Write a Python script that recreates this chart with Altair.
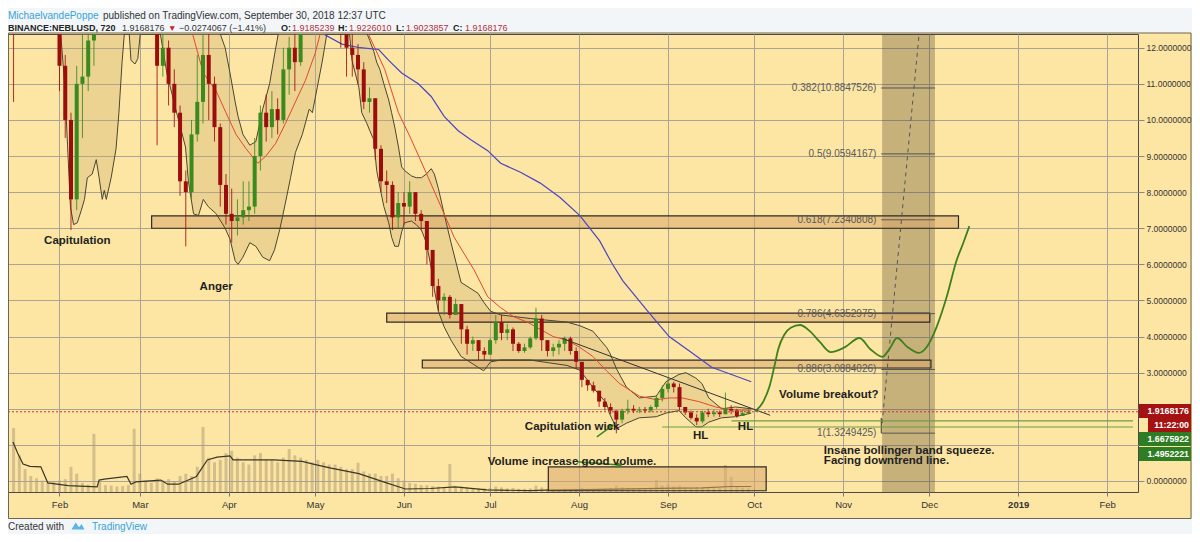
import altair as alt
import pandas as pd

BASE = pd.Timestamp("2018-01-01")


def to_dates(days):
    return BASE + pd.to_timedelta(pd.Series(days, dtype="float64"), unit="D")


# ----------------------------------------------------------------- data
# 2-day NEBL/USD candles, Jan 16 -> Sep 29 2018 (open = previous close)
candle_start = "2018-01-16"
first_open = 20.0
closes = [15.0, 17.0, 18.0, 16.0, 15.5, 16.0, 15.5, 13.5,
          11.5, 10.0, 7.8, 11.0, 11.2, 12.2, 13.5, 14.5, 16.5, 16.0, 14.5, 13.8, 14.2, 14.6,
          14.0, 13.5, 13.0, 11.5, 12.0, 11.0, 10.2, 8.3, 8.0, 9.6, 10.5, 11.8, 11.0, 9.8, 8.2, 7.4,
          7.2, 7.3, 7.5, 7.6, 9.0, 10.2, 9.8, 10.3, 10.0, 11.4, 12.0, 11.6, 13.2, 14.5, 14.0,
          14.5, 15.0, 14.2, 13.5, 12.6, 12.0, 11.8, 11.4, 10.5, 10.6, 9.2, 8.3, 8.2, 7.3, 7.7,
          7.6, 8.0, 7.4, 7.2, 6.4, 5.4, 5.0, 5.1, 4.6, 4.9, 4.2, 3.8, 3.9, 3.6, 3.5,
          3.9, 4.4, 4.1, 4.2, 3.8, 3.6, 3.7, 3.95, 4.5, 3.9, 3.6, 3.7, 3.8, 3.95, 3.6, 3.3,
          2.8, 2.65, 2.5, 2.2, 2.05, 1.95, 1.7, 1.95, 2.0, 1.95, 1.98, 1.95, 2.05, 2.3, 2.55,
          2.7, 2.6, 2.05, 1.9, 1.75, 1.65, 1.9, 1.85, 1.9, 1.85, 2.0, 1.95, 1.8, 1.88, 1.92]
highs = [22.0, 18.5, 19.0, 18.0, 16.5, 17.0, 16.5, 15.5,
         13.5, 11.8, 10.2, 11.5, 12.5, 13.0, 14.5, 15.5, 17.5, 17.5, 16.2, 14.8, 15.0, 15.4,
         15.0, 14.5, 14.0, 13.2, 12.6, 12.2, 11.4, 10.4, 8.6, 10.0, 11.8, 12.6, 12.4, 11.2, 9.9, 8.5,
         8.1, 7.8, 8.3, 8.3, 9.5, 10.4, 10.7, 10.8, 10.6, 12.0, 12.3, 12.6, 13.8, 15.2, 15.0,
         15.5, 16.0, 15.5, 14.8, 13.6, 12.8, 12.5, 12.1, 11.6, 10.9, 10.6, 9.3, 8.6, 8.3, 8.0,
         8.0, 8.3, 8.0, 7.5, 7.2, 6.4, 5.6, 5.2, 5.15, 5.05, 4.9, 4.3, 4.0, 3.9, 3.7,
         3.95, 4.6, 4.6, 4.35, 4.25, 3.85, 3.8, 4.0, 4.8, 4.6, 3.9, 3.8, 3.9, 4.0, 4.0, 3.7,
         3.3, 2.8, 2.75, 2.5, 2.3, 2.15, 1.95, 2.0, 2.25, 2.1, 2.05, 2.05, 2.1, 2.35, 2.65,
         2.85, 2.75, 2.7, 2.05, 1.95, 1.85, 1.95, 2.0, 1.98, 1.95, 2.45, 2.1, 2.0, 1.95, 1.97]
lows = [10.5, 14.0, 16.0, 15.0, 14.0, 14.5, 14.5, 12.8,
        10.8, 9.5, 6.95, 7.5, 9.5, 10.8, 11.5, 13.0, 14.2, 15.0, 13.8, 12.9, 13.4, 13.8,
        13.0, 12.6, 12.5, 9.3, 11.2, 10.4, 9.8, 7.9, 6.5, 7.8, 9.4, 9.9, 10.0, 9.4, 7.6, 7.1,
        6.6, 6.8, 7.1, 7.2, 7.4, 8.6, 9.4, 9.5, 9.6, 9.9, 10.7, 10.8, 11.5, 13.0, 13.2,
        13.5, 14.0, 13.6, 12.8, 12.0, 11.2, 11.2, 11.0, 10.3, 10.2, 8.9, 8.0, 7.7, 6.95, 7.0,
        7.1, 7.4, 7.2, 6.95, 6.0, 5.1, 4.7, 4.6, 4.5, 4.6, 3.8, 3.5, 3.6, 3.35, 3.35,
        3.5, 3.8, 3.9, 3.9, 3.6, 3.55, 3.55, 3.65, 3.9, 3.6, 3.45, 3.45, 3.5, 3.6, 3.5, 3.1,
        2.6, 2.5, 2.45, 2.05, 1.95, 1.85, 1.32, 1.6, 1.85, 1.88, 1.88, 1.88, 1.9, 2.0, 2.2,
        2.45, 2.45, 1.95, 1.83, 1.7, 1.55, 1.6, 1.77, 1.78, 1.77, 1.85, 1.85, 1.75, 1.8, 1.85]
volumes = [14, 8, 5, 3.5, 3, 2.5, 2, 2.2,
           2.5, 2.8, 5.5, 4, 2, 1.6, 12.7, 2.2, 1.5, 1.4, 1.2, 1.3, 1.5, 13.8,
           4, 2.5, 2, 3, 2.5, 2.8, 2.2, 3.5, 4, 3.5, 5.5, 14.2, 7.5, 6.5, 7, 8.5,
           9, 7.5, 6.5, 6, 8, 8.5, 7, 7, 6.5, 7.5, 9.4, 8, 7.5, 7, 6.5,
           7, 6.5, 6, 6, 5.5, 5, 5, 6.4, 4.5, 4, 4, 3.5, 3.5, 4, 3,
           2.5, 2, 1.8, 1.5, 1.5, 1.3, 1.2, 1.0, 6.1, 1.0, 1.2, 1.0, 0.9, 0.8, 0.8,
           0.9, 1.2, 1.0, 0.8, 0.9, 0.7, 0.7, 0.8, 1.4, 1.0, 0.7, 0.6, 0.6, 0.7, 0.6, 0.7,
           0.9, 0.7, 0.6, 0.7, 0.8, 0.9, 1.4, 1.1, 0.9, 0.7, 0.6, 0.6, 0.7, 2.6, 1.4,
           1.6, 1.2, 1.4, 1.0, 0.9, 1.1, 0.9, 0.8, 0.8, 0.9, 5.9, 3.3, 1.1, 0.9, 0.8]

# Bollinger bands (day of year 2018, 0 = Jan 1)
bb_day = [14.8, 29.3, 31.4, 32.8, 33.8, 34.8, 35.9, 37.2, 38.6, 39.7, 40.7, 42.4, 43.8, 44.8,
          45.9, 46.6, 47.3, 49.0, 50.7, 51.7, 52.8, 53.8, 55.2, 55.9, 57.3, 58.3, 59.4, 62.1,
          64.5, 66.3, 68.4, 71.8, 74.9, 75.9, 77.7, 79.4, 81.1, 82.8, 85.6, 88.7, 90.4, 92.2,
          93.2, 94.9, 97.3, 99.4, 101.8, 104.2, 105.9, 107.7, 109.7, 111.5, 113.2, 115.6, 118.0,
          119.1, 120.8, 122.5, 124.6, 129.4, 131.9, 132.9, 135.3, 136.3, 138.1, 139.1, 140.5,
          141.5, 142.6, 144.0, 145.7, 146.7, 147.8, 149.1, 150.2, 151.2, 153.6, 155.3, 157.1,
          158.8, 160.5, 161.6, 163.0, 165.0, 167.4, 170.9, 176.8, 178.8, 181.2, 184.7, 195.0,
          207.8, 212.3, 216.8, 221.6, 222.7, 225.1, 228.5, 233.0, 238.9, 242.3, 246.8, 249.2,
          252.7, 254.8, 257.2, 261.7, 266.5, 272.0]
bb_lower = [13.0, 13.0, 12.4, 11.0, 9.3, 7.6, 7.1, 7.15, 7.5, 7.8, 8.4, 8.5, 8.9, 8.4,
            7.8, 8.05, 7.8, 8.4, 9.2, 10.2, 11.6, 12.6, 12.5, 11.65, 11.55, 11.7, 12.6, 13.0,
            13.2, 12.3, 11.3, 10.2, 9.25, 8.3, 7.4, 7.35, 7.8, 7.6, 7.4, 7.0, 6.7, 6.1,
            6.0, 6.2, 6.6, 6.5, 6.2, 6.1, 6.4, 6.95, 7.7, 8.4, 9.1, 9.6, 10.3,
            10.2, 10.9, 11.6, 12.6, 12.8, 12.5, 11.65, 10.9, 10.2, 9.9, 9.7, 9.45,
            8.6, 8.15, 7.6, 7.15, 6.75, 6.5, 6.5, 6.9, 7.15, 7.2, 7.1, 6.95,
            6.6, 5.9, 5.3, 4.7, 4.27, 3.9, 3.45, 3.15, 3.05, 3.3, 3.35, 3.35,
            3.2, 3.07, 2.6, 2.15, 1.85, 1.45, 1.6, 1.75, 1.78, 1.88, 1.95, 1.75,
            1.5, 1.5, 1.63, 1.75, 1.78, 1.88]
bb_upper = [30.0, 23.0, 22.0, 21.8, 21.6, 21.4, 21.2, 21.0, 20.6, 20.4, 20.2, 20.0, 19.6, 19.5,
            19.3, 19.2, 19.1, 18.8, 18.5, 18.3, 18.1, 18.0, 17.5, 17.3, 16.9, 16.6, 16.3, 15.8,
            15.4, 15.1, 14.8, 14.3, 13.7, 13.5, 13.2, 13.1, 13.05, 13.0, 12.7, 12.0, 11.3, 10.5,
            10.1, 9.6, 9.3, 9.4, 10.3, 11.0, 11.8, 12.6, 13.1, 13.5, 13.9, 14.5, 15.0,
            15.2, 15.6, 15.9, 16.3, 15.5, 14.5, 14.0, 13.2, 12.9, 12.4, 12.2, 11.9,
            11.6, 11.4, 11.0, 10.55, 10.2, 9.8, 9.25, 8.7, 8.6, 8.45, 8.4, 8.4,
            8.5, 8.65, 8.5, 8.1, 7.4, 6.6, 5.5, 5.2, 4.95, 4.7, 4.6, 4.5,
            4.4, 4.3, 4.15, 3.7, 3.55, 3.1, 2.6, 2.3, 2.35, 2.75, 2.95, 3.0,
            2.85, 2.7, 2.3, 2.0, 2.05, 2.0]

ma_red_day = [14.8, 46.6, 63.8, 74.2, 76.6, 81.1, 85.6, 89.0, 92.5, 96.0, 100.1, 102.9, 106.3,
              109.7, 113.2, 116.7, 120.1, 122.5, 126.0, 132.9, 138.8, 144.3, 149.1, 153.6, 159.5,
              165.0, 168.5, 175.4, 180.2, 184.7, 189.2, 194.0, 198.5, 203.0, 207.8, 212.3, 216.8,
              221.6, 226.1, 233.0, 238.9, 243.4, 247.9, 253.7, 259.6, 265.1, 272.0]
ma_red = [20, 16, 14, 13.0, 12.6, 11.3, 10.8, 10.2, 9.6, 9.2, 8.8, 9.0, 9.35,
          9.9, 10.5, 11.1, 11.85, 12.6, 13.3, 13.2, 12.35, 11.4, 10.2, 9.45, 8.4,
          7.4, 6.75, 5.85, 5.1, 4.8, 4.55, 4.4, 4.2, 4.0, 3.9, 3.7, 3.45,
          3.05, 2.7, 2.35, 2.25, 2.3, 2.3, 2.2, 2.05, 1.97, 1.96]
ma_blue_day = [115.6, 123.6, 129.4, 135.7, 142.2, 145.7, 150.2, 156.0, 160.5, 165.0, 169.9, 174.3,
               180.2, 184.7, 191.6, 198.5, 205.4, 212.3, 219.2, 223.3, 227.2, 235.4, 243.4, 251.3,
               258.2, 265.1, 272.0]
ma_blue = [13.6, 12.35, 12.1, 12.0, 11.95, 11.65, 11.3, 11.0, 10.65, 10.1, 9.7, 9.45,
           9.15, 8.8, 8.55, 8.25, 7.85, 7.35, 6.65, 6.05, 5.55, 4.75, 4.0, 3.55,
           3.15, 2.95, 2.75]

volma_day = [14.8, 16.4, 18.3, 20.7, 24.5, 26.9, 34.1, 44.1, 44.8, 46.6, 54.5, 55.9, 57.6, 66.3,
             68.7, 72.5, 78.7, 82.5, 85.9, 90.4, 91.5, 98.4, 105.6, 115.6, 119.4, 125.6, 135.3,
             143.9, 151.5, 160.2, 168.8, 179.9, 194.7, 200.6, 215.0, 240.0, 255.0, 265.0, 272.0]
volma = [10.9, 8.5, 6.1, 5.6, 5.5, 2.0, 1.4, 1.1, 2.6, 2.8, 3.4, 1.7, 2.2, 2.6,
         1.7, 1.7, 3.4, 7.0, 7.6, 7.9, 7.0, 7.0, 7.0, 6.7, 6.1, 5.2, 4.0,
         2.2, 0.66, 0.76, 1.1, 0.48, 0.28, 0.4, 0.5, 0.8, 0.9, 1.2, 1.2]

proj_day = [273.4, 276.2, 278.3, 280.0, 281.4, 283.5, 285.9, 289.0, 292.4, 295.9, 299.7, 304.5,
            309.7, 313.5, 317.7, 320.1, 322.8, 326.3, 330.4, 333.2, 336.6, 340.1, 343.5, 345.9, 348.0]
proj_price = [1.93, 2.2, 2.6, 3.15, 3.65, 4.05, 4.25, 4.32, 4.15, 3.85, 3.57, 3.7,
              3.96, 3.65, 3.44, 3.65, 3.96, 3.72, 3.55, 3.72, 4.27, 5.1, 6.1, 6.6, 7.06]

zone_start = [63.1, 145.0, 157.4, 201.3]
zone_end = [344.2, 334.2, 334.6, 277.2]
zone_low = [7.0, 4.4, 3.13, -0.27]
zone_high = [7.34, 4.65, 3.35, 0.39]

fib_ratio = ["0.382", "0.5", "0.618", "0.786", "0.886", "1"]
fib_price = [10.8847526, 9.0594167, 7.2340808, 4.6352975, 3.0884026, 1.3249425]
fib_start_day, fib_end_day, fib_label_day = 317.3, 336.0, 316.3
squeeze_day = [317.6, 336.0]
fib_diag_day = [317.6, 331.1]
fib_diag_price = [1.6, 12.9]
fib_anchor = [1.33, 1.75]
trend_day = [206.1, 278.6]
trend_price = [3.95, 1.82]
support_price = [1.6675922, 1.4952221]
support_start = [265.1, 241.0]
support_end = 405.0
last_price = 1.9168176

notes_text = ["Capitulation", "Anger", "Capitulation wick", "HL", "HL",
              "Volume increase  good volume.", "Volume breakout?",
              "Insane bollinger band squeeze.", "Facing downtrend line."]
notes_day = [37.2, 85.6, 209.6, 254.4, 270.0, 180.2, 281.7, 297.3, 297.3]
notes_price = [6.65, 5.37, 1.5, 1.25, 1.5, 0.53, 2.38, 0.83, 0.55]
notes_align = ["center", "center", "center", "center", "center", "left", "left", "left", "left"]

arrow_id = ["wick", "wick", "vol", "vol"]
arrow_day = [218.2, 223.4, 211.3, 226.1]
arrow_price = [1.22, 1.52, 0.53, 0.44]

badge_text = ["1.9168176", "11:22:00", "1.6675922", "1.4952221"]

# ----------------------------------------------------------------- frames
candles = pd.DataFrame({
    "date": pd.date_range(candle_start, periods=len(closes), freq="2D"),
    "open": [first_open] + closes[:-1], "close": closes,
    "high": highs, "low": lows, "vol": volumes})
bb = pd.DataFrame({"date": to_dates(bb_day), "upper": bb_upper, "lower": bb_lower})
red = pd.DataFrame({"date": to_dates(ma_red_day), "v": ma_red})
blue = pd.DataFrame({"date": to_dates(ma_blue_day), "v": ma_blue})
vma = pd.DataFrame({"date": to_dates(volma_day), "v": volma})
proj = pd.DataFrame({"date": to_dates(proj_day), "v": proj_price})
zones = pd.DataFrame({"date": to_dates(zone_start), "date2": to_dates(zone_end),
                      "lo": zone_low, "hi": zone_high})
fib = pd.DataFrame({"date": to_dates([fib_start_day] * 6), "date2": to_dates([fib_end_day] * 6),
                    "p": fib_price,
                    "label": [f"{r}({p:.7f})" for r, p in zip(fib_ratio, fib_price)],
                    "ldate": to_dates([fib_label_day] * 6)})
squeeze = pd.DataFrame({"date": to_dates([squeeze_day[0]]), "date2": to_dates([squeeze_day[1]])})
diag = pd.DataFrame({"date": to_dates(fib_diag_day), "v": fib_diag_price})
anchor = pd.DataFrame({"date": to_dates([fib_start_day]), "lo": [fib_anchor[0]], "hi": [fib_anchor[1]]})
trend = pd.DataFrame({"date": to_dates(trend_day), "v": trend_price})
support = pd.DataFrame({"date": to_dates(support_start), "date2": to_dates([support_end] * 2),
                        "p": support_price})
lastp = pd.DataFrame({"p": [last_price]})
notes = pd.DataFrame({"date": to_dates(notes_day), "p": notes_price, "t": notes_text,
                      "a": notes_align})
arrows = pd.DataFrame({"id": arrow_id, "date": to_dates(arrow_day), "p": arrow_price})
one = pd.DataFrame({"k": [0]})

# ----------------------------------------------------------------- style
W, H = 1130, 458
TOTAL_W = 1184
BEIGE = "#fde6a3"
PANEL = "#f3f6f8"
RED = "#9c0e0e"
GREEN = "#3b8a1d"
GRID = "#aaa398"
UI_FONT = "Liberation Sans"
NOTE_FONT = "Liberation Sans"

xscale = alt.Scale(domain=[alt.DateTime(year=2018, month=1, date=15, hours=19, minutes=12),
                           alt.DateTime(year=2019, month=2, date=10)], nice=False)
month_ticks = [alt.DateTime(year=2018, month=m, date=1) for m in range(2, 13)] + \
              [alt.DateTime(year=2019, month=1, date=1), alt.DateTime(year=2019, month=2, date=1)]
xaxis = alt.Axis(values=month_ticks, title=None, grid=True, gridColor=GRID, domain=False,
                 tickSize=4, tickColor="#777", labelPadding=3, labelFont=UI_FONT,
                 labelFontSize=9.5, labelColor="#333", labelFlush=False, labelOverlap=False,
                 labelExpr="month(datum.value) == 0 ? timeFormat(datum.value, '%Y') : timeFormat(datum.value, '%b')",
                 labelFontWeight=alt.condition("month(datum.value) == 0", alt.value("bold"), alt.value("normal")))
yscale = alt.Scale(domain=[-0.305, 12.38], nice=False, zero=False)
yaxis = alt.Axis(orient="right", values=list(range(13)), title=None, grid=True, gridColor=GRID,
                 domain=False, tickSize=6, tickColor="#888", labelPadding=2, labelFont=UI_FONT,
                 labelFontSize=8.5, labelColor="#333", labelOverlap=False, labelFlush=False,
                 labelExpr="(datum.value == 1 || datum.value == 2) ? '' : format(datum.value, '.7f')")

X = alt.X("date:T", scale=xscale, axis=xaxis)


def Y(f):
    return alt.Y(f"{f}:Q", scale=yscale, axis=yaxis)


def ptext(txt, x, y, color="#333", size=10, weight="normal", font="Liberation Sans", align="left"):
    return alt.Chart(one).mark_text(text=txt, align=align, baseline="middle", color=color,
                                    fontSize=size, fontWeight=weight, font=font).encode(
        x=alt.value(x), y=alt.value(y))


up = alt.condition("datum.close >= datum.open", alt.value(GREEN), alt.value(RED))

layers = [
    alt.Chart(squeeze).mark_rect(color="#493921", opacity=0.3).encode(
        x=X, x2="date2:T", y=alt.value(0), y2=alt.value(H)),
    alt.Chart(bb).mark_area(color="#c9a86a", opacity=0.3, clip=True).encode(x=X, y=Y("upper"), y2="lower:Q"),
    alt.Chart(zones).mark_rect(fill="#d9a86b", fillOpacity=0.55, stroke="#2e2a22", strokeWidth=1.2).encode(
        x=X, x2="date2:T", y=Y("lo"), y2="hi:Q"),
    alt.Chart(bb).mark_line(color="#4b4630", strokeWidth=1, clip=True).encode(x=X, y=Y("upper")),
    alt.Chart(bb).mark_line(color="#4b4630", strokeWidth=1, clip=True).encode(x=X, y=Y("lower")),
    alt.Chart(red).mark_line(color="#e2482f", strokeWidth=1, clip=True).encode(x=X, y=Y("v")),
    alt.Chart(blue).mark_line(color="#4b44c4", strokeWidth=1.2, clip=True).encode(x=X, y=Y("v")),
    alt.Chart(candles).mark_rule(strokeWidth=1, opacity=0.85, clip=True).encode(
        x=X, y=Y("low"), y2="high:Q", color=up),
    alt.Chart(candles).mark_bar(size=4, clip=True).encode(x=X, y=Y("open"), y2="close:Q", color=up),
    alt.Chart(trend).mark_line(color="#333333", strokeWidth=1).encode(x=X, y=Y("v")),
    alt.Chart(fib).mark_rule(color="#555555", strokeWidth=1).encode(x=X, x2="date2:T", y=Y("p")),
    alt.Chart(fib).mark_text(align="right", baseline="middle", fontSize=10, color="#5a5a5a",
                             font="Liberation Sans", dx=-2).encode(
        x=alt.X("ldate:T", scale=xscale, axis=xaxis), y=Y("p"), text="label:N"),
    alt.Chart(diag).mark_line(color="#555555", strokeWidth=1, strokeDash=[4, 4], clip=True).encode(x=X, y=Y("v")),
    alt.Chart(anchor).mark_rule(color="#333333", strokeWidth=1).encode(x=X, y=Y("lo"), y2="hi:Q"),
    alt.Chart(support).mark_rule(color="#6aa03c", strokeWidth=1.2).encode(x=X, x2="date2:T", y=Y("p")),
    alt.Chart(lastp).mark_rule(color="#c0392b", strokeWidth=1, strokeDash=[2, 2]).encode(y=Y("p")),
    alt.Chart(proj).mark_line(color="#3f7f1c", strokeWidth=1.8, interpolate="monotone", clip=True).encode(
        x=X, y=Y("v")),
    alt.Chart(arrows).mark_line(color=GREEN, strokeWidth=1.5).encode(x=X, y=Y("p"), detail="id:N"),
]
for i, ang in ((1, 54), (3, 94)):
    head = pd.DataFrame({"date": to_dates([arrow_day[i]]), "p": [arrow_price[i]]})
    layers.append(alt.Chart(head).mark_point(shape="triangle-up", filled=True, size=40, color=GREEN,
                                             opacity=1, angle=ang).encode(x=X, y=Y("p")))
for al in ("center", "left"):
    layers.append(alt.Chart(notes[notes.a == al]).mark_text(
        align=al, baseline="middle", fontSize=11.5, fontWeight="bold", color="#1f1f1f",
        font=NOTE_FONT).encode(x=X, y=Y("p"), text="t:N"))

# header / footer panels
layers += [
    alt.Chart(one).mark_rect(color=PANEL).encode(x=alt.value(0), x2=alt.value(TOTAL_W),
                                                 y=alt.value(-26), y2=alt.value(-1)),
    alt.Chart(one).mark_rect(color=PANEL).encode(x=alt.value(0), x2=alt.value(TOTAL_W),
                                                 y=alt.value(485), y2=alt.value(500)),
    alt.Chart(one).mark_rect(fillOpacity=0, stroke="#6e6552", strokeWidth=1).encode(
        x=alt.value(0.5), x2=alt.value(TOTAL_W - 1), y=alt.value(-1), y2=alt.value(484.5)),
]
BLUE_TXT = "#35a3d5"
HRED = "#b0303a"
layers += [
    ptext("MichaelvandePoppe", 0, -18, color=BLUE_TXT, size=10),
    ptext("published on TradingView.com, September 30, 2018 12:37 UTC", 95, -18, color="#333", size=10),
    ptext("BINANCE:NEBLUSD, 720", 0, -6, color="#222", size=9, weight="bold"),
    ptext("1.9168176", 114, -6, color="#333", size=9),
    ptext("▼", 160, -6, color="#c0282f", size=8.5),
    ptext("\u22120.0274067 (\u22121.41%)", 171, -6, color="#333", size=9),
    ptext("O:", 273, -6, color="#222", size=9, weight="bold"),
    ptext("1.9185239", 284, -6, color=HRED, size=9),
    ptext("H:", 330, -6, color="#222", size=9, weight="bold"),
    ptext("1.9226010", 341, -6, color=HRED, size=9),
    ptext("L:", 388, -6, color="#222", size=9, weight="bold"),
    ptext("1.9023857", 398, -6, color=HRED, size=9),
    ptext("C:", 445, -6, color="#222", size=9, weight="bold"),
    ptext("1.9168176", 457, -6, color=HRED, size=9),
    ptext("Created with", 0, 493, color="#333", size=10),
    alt.Chart(one).mark_point(shape="M-1,0.55L-0.35,-0.55L0.15,0.2L0.55,-0.3L1,0.55Z", filled=True,
                              size=170, color="#5cb4e6", opacity=1).encode(x=alt.value(70), y=alt.value(492)),
    ptext("TradingView", 84, 493, color=BLUE_TXT, size=10),
]
# price badges on the right scale
badge_box = [(1131, 1183, 370, 384, "#a51212"), (1140, 1183, 384, 398, "#a51212"),
             (1131, 1183, 398, 412, "#2e7d22"), (1131, 1183, 413, 427, "#2e7d22")]
for txt, (x1, x2, y1, y2, col) in zip(badge_text, badge_box):
    layers.append(alt.Chart(one).mark_rect(color=col).encode(
        x=alt.value(x1), x2=alt.value(x2), y=alt.value(y1), y2=alt.value(y2)))
    layers.append(ptext(txt, x2 - 2, (y1 + y2) / 2, color="white", size=8.8, weight="bold",
                        font=UI_FONT, align="right"))

price = alt.layer(*layers)

vscale = alt.Scale(domain=[0, 100], nice=False, zero=True)
vol = alt.layer(
    alt.Chart(candles).mark_bar(size=3, color="#b39f78", opacity=0.55, clip=True).encode(
        x=X, y=alt.Y("vol:Q", scale=vscale, axis=None)),
    alt.Chart(vma).mark_line(color="#3a3626", strokeWidth=1.2, clip=True).encode(
        x=X, y=alt.Y("v:Q", scale=vscale, axis=None)),
)

chart = alt.layer(vol, price).resolve_scale(y="independent").properties(
    width=W, height=H,
    padding={"left": 0, "top": 26, "right": TOTAL_W - W, "bottom": 42},
    autosize=alt.AutoSizeParams(type="none"),
    background=BEIGE,
).configure_view(fill=BEIGE, stroke="#4a4a4a", strokeWidth=1)

chart.save("out.html", embed_options={"renderer": "svg", "actions": False})
